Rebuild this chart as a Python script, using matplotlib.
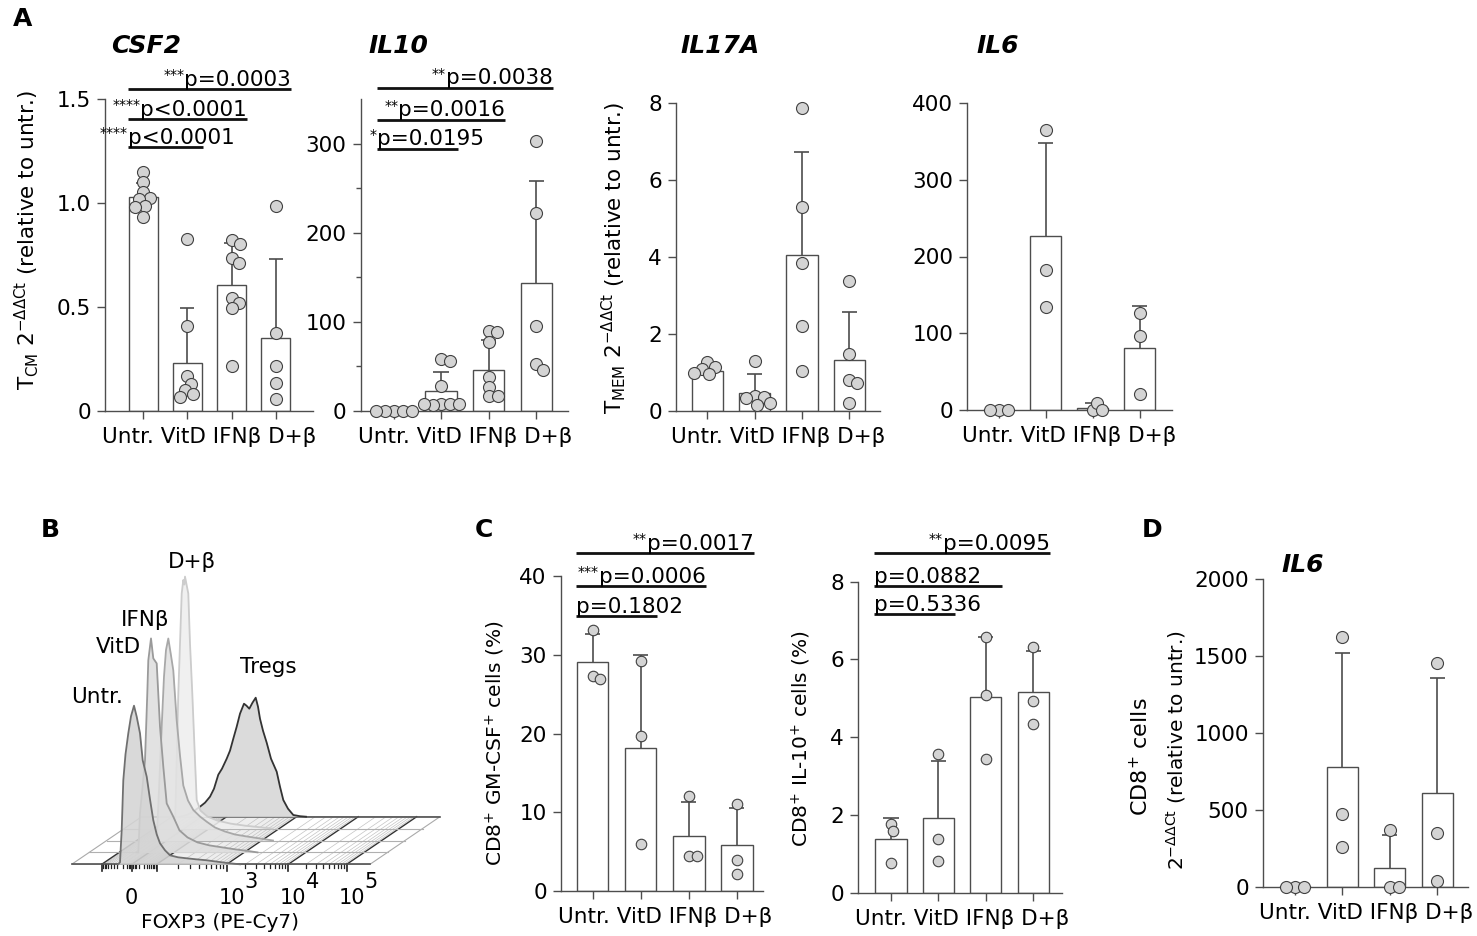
import numpy as np
import matplotlib
matplotlib.use('Agg')
import matplotlib.pyplot as plt

plt.rcParams['font.family'] = ['DejaVu Sans']
plt.rcParams['mathtext.fontset'] = 'dejavusans'

# ---------------- data ----------------
groups = ['Untr.', 'VitD', 'IFNβ', 'D+β']

csf2_mean = [1.03, 0.228, 0.605, 0.352]
csf2_sd = [0.068, 0.268, 0.201, 0.377]
csf2_pts = [[1.15, 1.10, 1.055, 1.026, 1.018, 0.988, 0.98, 0.935],
            [0.825, 0.41, 0.167, 0.13, 0.10, 0.08, 0.065],
            [0.82, 0.804, 0.737, 0.713, 0.541, 0.52, 0.493, 0.217],
            [0.986, 0.373, 0.215, 0.132, 0.056]]

il10_mean = [1.0, 22, 46, 143]
il10_sd = [0.5, 22, 33, 115]
il10_pts = [[0, 0, 0, 0, 0],
            [58, 56, 28, 8, 7, 6, 7, 8],
            [90, 88, 77, 38, 27, 17, 16],
            [303, 222, 95, 52, 46]]

il17a_mean = [1.05, 0.46, 4.05, 1.32]
il17a_sd = [0.13, 0.49, 2.69, 1.25]
il17a_pts = [[1.28, 1.15, 1.10, 1.0, 0.97],
             [1.31, 0.38, 0.36, 0.35, 0.2, 0.16],
             [7.89, 5.31, 3.84, 2.22, 1.04],
             [3.39, 1.48, 0.81, 0.72, 0.2]]

il6a_mean = [0, 227, 3.3, 81]
il6a_sd = [0.5, 121, 5.8, 54]
il6a_pts = [[0, 0, 0], [364, 183, 134], [0, 10, 0], [126, 96, 21]]

gmcsf_mean = [29.1, 18.2, 7.0, 5.8]
gmcsf_sd = [3.5, 11.8, 4.3, 4.7]
gmcsf_pts = [[33.1, 27.3, 26.9], [29.2, 19.7, 6.0], [12.1, 4.5, 4.5], [11.1, 4.0, 2.2]]

il10p_mean = [1.37, 1.91, 5.03, 5.17]
il10p_sd = [0.54, 1.49, 1.56, 1.05]
il10p_pts = [[1.78, 1.59, 0.77], [3.58, 1.38, 0.82], [6.59, 5.09, 3.43], [6.33, 4.92, 4.33]]

il6d_mean = [0, 780, 119, 607]
il6d_sd = [3, 737, 217, 747]
il6d_pts = [[0, 0, 0], [1625, 470, 260], [368, 0, 0], [1452, 351, 37]]

# significance: (group compared with Untr., y level, p text, stars)
csf2_sig = [(3, 1.548, 'p=0.0003', '***'), (2, 1.404, 'p<0.0001', '****'), (1, 1.269, 'p<0.0001', '****')]
il10_sig = [(3, 363, 'p=0.0038', '**'), (2, 327, 'p=0.0016', '**'), (1, 294.6, 'p=0.0195', '*')]
gmcsf_sig = [(3, 42.9, 'p=0.0017', '**'), (2, 38.7, 'p=0.0006', '***'), (1, 34.9, 'p=0.1802', '')]
il10p_sig = [(3, 8.73, 'p=0.0095', '**'), (2, 7.89, 'p=0.0882', ''), (1, 7.16, 'p=0.5336', '')]

# panel B: flow histograms (position along FOXP3 axis, height)
hist_names = ['Untr.', 'VitD', 'IFNβ', 'D+β', 'Tregs']
untr_x = [118, 120, 121.7, 123.3, 125.5, 128.3, 131, 134, 136.7, 140, 142.7, 146.7, 150, 153.3, 156.7, 160, 165, 170, 178, 186.7, 196, 206.7, 218, 230, 240]
untr_h = [0, 2, 34, 84, 110, 131, 148, 158.6, 147.6, 131, 104, 87.6, 65, 44, 30, 21, 14, 9, 7, 6, 5, 4, 2.5, 1, 0]
vitd_x = [119, 120.8, 122.5, 125, 127.5, 129.8, 130.8, 133.5, 135.8, 139.2, 142.5, 145.8, 149.2, 155.8, 162, 170, 180, 192, 205, 218, 230, 240]
vitd_h = [0, 0, 39, 65, 92, 159, 192, 214, 194, 189, 125.7, 85.7, 49, 35.7, 22, 15, 10, 7, 5, 3, 1.5, 0]
ifnb_x = [120, 121.7, 124, 126.7, 129, 131, 133.3, 135.7, 138.3, 141.7, 145, 148.3, 153, 158.3, 165, 171.7, 180, 190, 200, 212, 225, 238]
ifnb_h = [0, 0.5, 50, 114, 164, 190.5, 202, 187, 170, 120, 85, 55, 40, 30.5, 24, 18.8, 13, 9, 6, 4, 2, 0]
db_x = [121, 122.5, 124.2, 125.8, 127.5, 129.2, 130.8, 131.8, 132.5, 135.8, 137.5, 139.8, 142.5, 144.2, 148, 155, 165, 178, 192, 206, 220]
db_h = [0, 2, 68.6, 135, 185, 235, 248.6, 244, 252, 235, 185, 135, 68.6, 28.6, 18, 12, 8, 5, 3, 1.5, 0]
treg_x = [110, 116.7, 123, 130, 135, 140, 144, 148.3, 152, 156.7, 160, 163.3, 166.7, 170, 174, 176.5, 179.3, 182.5, 185.7, 188, 190, 193, 196.7, 201, 206.7, 210, 213.3, 218, 223.3, 230, 236]
treg_h = [0, 1.7, 5, 10, 14, 20, 28, 42, 48, 58, 66, 78, 90, 103, 113, 111, 108, 114, 119, 110, 98, 86, 74, 58, 45, 30, 16.7, 8, 1.7, 0.5, 0]
foxp3_major = [101.7, 131.7, 156.7, 226.7, 288.3, 346.7]
foxp3_labels = {131.7: '0', 226.7: '3', 288.3: '4', 346.7: '5'}

# ---------------- figure ----------------
W, H = 1477, 936
fig = plt.figure(figsize=(W / 100, H / 100), dpi=100)
EDGE = '#4d4d4d'
DOT = '#d4d4d4'
DOTE = '#404040'
TFS = 15.5
PFS = 15.5
YFS = 14.5


def px(x, y):
    return x / W, 1 - y / H


def make_axes(xl, xr, c0, sp, y0, ytop, ymax, yticks, yticklabels, minor=None):
    ax = fig.add_axes([xl / W, 1 - y0 / H, (xr - xl) / W, (y0 - ytop) / H])
    ax.set_xlim(-(c0 - xl) / sp, (xr - c0) / sp)
    ax.set_ylim(0, ymax)
    for s in ['top', 'right']:
        ax.spines[s].set_visible(False)
    for s in ['left', 'bottom']:
        ax.spines[s].set_color(EDGE)
        ax.spines[s].set_linewidth(1.0)
    ax.set_xticks(range(4))
    ax.set_xticklabels([])
    ax.annotate(' '.join(groups), xy=(1.5, 0), xytext=(0, -11.5), textcoords='offset points',
                ha='center', va='top', fontsize=TFS, annotation_clip=False)
    ax.set_yticks(yticks)
    ax.set_yticklabels(yticklabels, fontsize=TFS)
    if minor is not None:
        ax.set_yticks(minor, minor=True)
    ax.tick_params(axis='both', which='major', length=6, width=1.0, color=EDGE, pad=4)
    ax.tick_params(axis='y', which='minor', length=3.5, width=1.0, color=EDGE)
    ax.patch.set_alpha(0)
    return ax


def swarm_offsets(ax, vals, diam):
    vals = np.asarray(vals, float)
    ys = ax.transData.transform(np.column_stack([np.zeros(len(vals)), vals]))[:, 1]
    pxu = ax.transData.transform((1, 0))[0] - ax.transData.transform((0, 0))[0]
    dmin = 0.72 * diam
    cands = [0.0]
    for k in range(1, 400):
        cands += [0.5 * k, -0.5 * k]
    placed = []
    offs = np.zeros(len(vals))
    for i in range(len(vals)):
        for c in cands:
            if all((c - p) ** 2 + (ys[i] - q) ** 2 >= dmin ** 2 for p, q in placed):
                break
        placed.append((c, ys[i]))
        offs[i] = c / pxu
    return offs


def draw_bars(ax, means, sds, pts, diam=12):
    x = np.arange(4)
    ax.bar(x, means, width=0.66, color='white', edgecolor=EDGE, linewidth=1.0, zorder=1)
    cap = 0.16
    for xi, m, s in zip(x, means, sds):
        ax.vlines(xi, m, m + s, color=EDGE, lw=1.2, zorder=2)
        ax.hlines(m + s, xi - cap, xi + cap, color=EDGE, lw=1.2, zorder=2)
    for xi, p in zip(x, pts):
        offs = swarm_offsets(ax, p, diam)
        ax.scatter(xi + offs, p, s=(diam * 0.72) ** 2, c=DOT, edgecolors=DOTE,
                   linewidths=0.8, zorder=3, clip_on=False)


def draw_sig(ax, sigs, fs=PFS):
    for j, y, text, stars in sigs:
        x0, x1 = -0.35, j + 0.35
        ax.plot([x0, x1], [y, y], color='#111111', lw=2.0, clip_on=False, solid_capstyle='butt')
        if stars and j > 1:
            t = ax.annotate(text, (x1, y), xytext=(0, 2.5), textcoords='offset points',
                            ha='right', va='baseline', fontsize=fs, annotation_clip=False)
        else:
            t = ax.annotate(text, (x0, y), xytext=(0, 2.5), textcoords='offset points',
                            ha='left', va='baseline', fontsize=fs, annotation_clip=False)
        if stars:
            ax.annotate(stars, xy=(0, 1), xycoords=t, xytext=(0, 1), textcoords='offset points',
                        ha='right', va='top', fontsize=fs * 0.66, annotation_clip=False)


# ---- Panel A ----
ax1 = make_axes(105, 313, 143.3, 44.1, 410.7, 99.3, 1.5, [0, 0.5, 1.0, 1.5], ['0', '0.5', '1.0', '1.5'])
draw_bars(ax1, csf2_mean, csf2_sd, csf2_pts)
draw_sig(ax1, csf2_sig)

ax2 = make_axes(360.5, 568, 393.5, 47.6, 410.7, 99.3, 350, [0, 100, 200, 300], ['0', '100', '200', '300'],
                minor=[50, 150, 250])
draw_bars(ax2, il10_mean, il10_sd, il10_pts)
draw_sig(ax2, il10_sig)

ax3 = make_axes(676, 880, 707.3, 47.3, 411, 103.3, 8, [0, 2, 4, 6, 8], ['0', '2', '4', '6', '8'])
draw_bars(ax3, il17a_mean, il17a_sd, il17a_pts)

ax4 = make_axes(967, 1172, 998.6, 47.1, 410.3, 102.7, 400, [0, 100, 200, 300, 400],
                ['0', '100', '200', '300', '400'])
draw_bars(ax4, il6a_mean, il6a_sd, il6a_pts)

# ---- Panel C ----
ax5 = make_axes(560.7, 763, 592.5, 48.1, 891, 576, 40, [0, 10, 20, 30, 40], ['0', '10', '20', '30', '40'])
draw_bars(ax5, gmcsf_mean, gmcsf_sd, gmcsf_pts, diam=10.5)
draw_sig(ax5, gmcsf_sig)

ax6 = make_axes(857.7, 1062, 891, 47.4, 892.7, 581.7, 8, [0, 2, 4, 6, 8], ['0', '2', '4', '6', '8'])
draw_bars(ax6, il10p_mean, il10p_sd, il10p_pts, diam=10.5)
draw_sig(ax6, il10p_sig)

# ---- Panel D ----
ax7 = make_axes(1262.7, 1468, 1295, 47.4, 886.7, 579, 2000, [0, 500, 1000, 1500, 2000],
                ['0', '500', '1000', '1500', '2000'])
draw_bars(ax7, il6d_mean, il6d_sd, il6d_pts, diam=12)

# ---- titles, labels ----
for (x, y, t) in [(146, 46, 'CSF2'), (398, 46, 'IL10'), (720, 46, 'IL17A'), (998, 46, 'IL6'), (1303, 565, 'IL6')]:
    fig.text(*px(x, y), t, ha='center', va='center', fontsize=18, fontweight='bold', fontstyle='italic')
for (x, y, t) in [(23, 19, 'A'), (50, 530, 'B'), (484, 530, 'C'), (1152, 530, 'D')]:
    fig.text(*px(x, y), t, ha='center', va='center', fontsize=18, fontweight='bold')

fig.text(*px(27, 240), r'T$_{\mathrm{CM}}$ 2$^{\mathrm{-ΔΔCt}}$ (relative to untr.)', rotation=90,
         ha='center', va='center', fontsize=YFS + 1)
fig.text(*px(614, 258), r'T$_{\mathrm{MEM}}$ 2$^{\mathrm{-ΔΔCt}}$ (relative to untr.)', rotation=90,
         ha='center', va='center', fontsize=YFS + 1)
fig.text(*px(495, 743), r'CD8$^{+}$ GM-CSF$^{+}$ cells (%)', rotation=90, ha='center', va='center', fontsize=YFS)
fig.text(*px(801, 739), r'CD8$^{+}$ IL-10$^{+}$ cells (%)', rotation=90, ha='center', va='center', fontsize=YFS)
fig.text(*px(1140, 757), r'CD8$^{+}$ cells', rotation=90, ha='center', va='center', fontsize=YFS + 1.5)
fig.text(*px(1176, 750), r'2$^{\mathrm{-ΔΔCt}}$ (relative to untr.)', rotation=90, ha='center', va='center', fontsize=YFS)

# ---- Panel B ----
axb = fig.add_axes([0, 0, 1, 1], zorder=-1)
axb.set_xlim(0, W)
axb.set_ylim(H, 0)
axb.axis('off')
FX0, FX1, FY = 71.7, 370.0, 864.3
LDX, LDY = 17.5, -11.9
NL = 4


def floor_band(xa, xb, color, z):
    axb.add_patch(plt.Polygon([(xa, FY), (xb, FY), (xb + NL * LDX, FY + NL * LDY), (xa + NL * LDX, FY + NL * LDY)],
                              closed=True, facecolor=color, edgecolor='none', zorder=z))


axb.add_patch(plt.Polygon([(FX0, FY), (FX1, FY), (FX1 + NL * LDX, FY + NL * LDY), (FX0 + NL * LDX, FY + NL * LDY)],
                          closed=True, facecolor='white', edgecolor='#aaaaaa', lw=0.8, zorder=1))
floor_band(foxp3_major[0], foxp3_major[3], '#eeeeee', 1.01)
floor_band(foxp3_major[0] + 14, foxp3_major[2], '#dddddd', 1.02)


def minor_positions():
    pos = []
    z = foxp3_major[1]
    for k in range(2, 10):
        pos.append(z - (z - foxp3_major[0]) * np.log10(k))
        pos.append(z + (foxp3_major[2] - z) * np.log10(k))
    for d in [1.5, 3.0, 4.5]:
        pos += [z - d, z + d]
    for a, b in zip(foxp3_major[2:-1], foxp3_major[3:]):
        for k in range(2, 10):
            pos.append(a + (b - a) * np.log10(k))
    return pos


for xm in minor_positions():
    axb.plot([xm, xm + NL * LDX], [FY, FY + NL * LDY], color='#c4c4c4', lw=0.5, zorder=1.1)
    axb.plot([xm, xm], [FY, FY + 3.5], color='#222222', lw=0.9, zorder=1.1)
for xm in foxp3_major:
    axb.plot([xm, xm + NL * LDX], [FY, FY + NL * LDY], color='#333333', lw=1.0, zorder=1.2)
    axb.plot([xm, xm], [FY, FY + 6.5], color='#222222', lw=1.2, zorder=1.2)
for k in range(NL + 1):
    col = '#555555' if k in (0, NL) else '#b0b0b0'
    axb.plot([FX0 + k * LDX, FX1 + k * LDX], [FY + k * LDY, FY + k * LDY], color=col,
             lw=1.2 if k in (0, NL) else 0.8, zorder=1.3)

hists = [(treg_x, treg_h, '#d6d6d6', '#333333', 4),
         (db_x, db_h, '#eeeeee', '#cccccc', 3),
         (ifnb_x, ifnb_h, '#e2e2e2', '#a8a8a8', 2),
         (vitd_x, vitd_h, '#dedede', '#9a9a9a', 1),
         (untr_x, untr_h, '#d4d4d4', '#707070', 0)]
for i, (hx, hh, fc, ec, lane) in enumerate(hists):
    X = np.asarray(hx) + lane * LDX
    base = FY + lane * LDY
    Y = base - np.asarray(hh)
    axb.fill_between(X, Y, base, color=fc, alpha=0.88, lw=0, zorder=2 + i)
    axb.plot(X, Y, color=ec, lw=1.3, zorder=2.5 + i)

for (x, y, t) in [(96.7, 697, 'Untr.'), (118.3, 647, 'VitD'), (145, 620, 'IFNβ'), (191.7, 562, 'D+β'), (268.3, 667, 'Tregs')]:
    axb.text(x, y, t, ha='center', va='center', fontsize=15.5, zorder=20)
for xm, lab in foxp3_labels.items():
    if lab == '0':
        axb.text(xm, 898, '0', ha='center', va='center', fontsize=15)
    else:
        axb.text(xm + 5, 898, '10', ha='center', va='center', fontsize=15)
        axb.text(xm + 24, 882, lab, ha='center', va='center', fontsize=15)
axb.text(220, 923, 'FOXP3 (PE-Cy7)', ha='center', va='center', fontsize=14.5)

fig.savefig('out.png', dpi=100)
